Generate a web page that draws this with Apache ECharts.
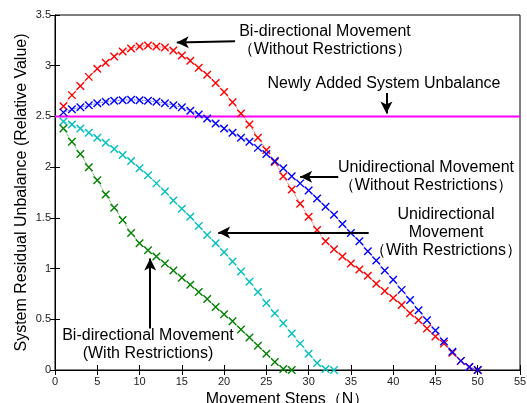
<!DOCTYPE html>
<html>
<head>
<meta charset="utf-8">
<script src="https://cdn.jsdelivr.net/npm/echarts@6/dist/echarts.min.js"></script>
<style>
  html, body { margin: 0; padding: 0; background: #fff; }
  #chart { width: 527px; height: 403px; }
</style>
</head>
<body>
<div id="chart"></div>
<script>
// steps start at 1, one value per step
var biNoRestrict = [2.60, 2.71, 2.80, 2.89, 2.97, 3.03, 3.09, 3.14, 3.17, 3.19,
    3.20, 3.19, 3.18, 3.15, 3.10, 3.05, 2.98, 2.91, 2.83, 2.74,
    2.64, 2.53, 2.42, 2.29, 2.17, 2.05, 1.91, 1.78, 1.64, 1.51,
    1.38, 1.27, 1.19, 1.12, 1.05, 0.99, 0.93, 0.85, 0.78, 0.71,
    0.64, 0.56, 0.49, 0.41, 0.33, 0.26, 0.17, 0.09, 0.03, 0.00];
var uniNoRestrict = [2.54, 2.57, 2.59, 2.61, 2.63, 2.645, 2.655, 2.66, 2.665, 2.66,
    2.655, 2.645, 2.63, 2.61, 2.59, 2.555, 2.52, 2.48, 2.43, 2.38,
    2.34, 2.29, 2.25, 2.19, 2.13, 2.06, 1.99, 1.91, 1.84, 1.77,
    1.69, 1.61, 1.53, 1.44, 1.35, 1.27, 1.17, 1.08, 0.98, 0.89,
    0.79, 0.69, 0.59, 0.49, 0.39, 0.28, 0.18, 0.09, 0.03, 0.00];
var uniRestrict = [2.45, 2.42, 2.38, 2.34, 2.29, 2.24, 2.18, 2.12, 2.06, 1.99,
    1.92, 1.84, 1.76, 1.67, 1.59, 1.51, 1.42, 1.33, 1.25, 1.16,
    1.07, 0.97, 0.87, 0.77, 0.66, 0.56, 0.46, 0.36, 0.26, 0.16,
    0.07, 0.01, 0.00];
var biRestrict = [2.38, 2.25, 2.13, 2.00, 1.87, 1.73, 1.60, 1.48, 1.35, 1.25,
    1.18, 1.12, 1.05, 0.98, 0.91, 0.84, 0.77, 0.70, 0.62, 0.55,
    0.48, 0.40, 0.32, 0.24, 0.16, 0.08, 0.01, 0.00];
var newUnbalance = 2.5;
var xTicks = [0, 55, 5];
var yTicks = [0, 3.5, 0.5];

function toPoints(vals) {
    return vals.map(function(v, i) { return [i + 1, v]; });
}

var cross = 'path://M0,0L10,10M10,0L0,10';
var font = 'Arial, "Liberation Sans", sans-serif';

function markSeries(name, vals, color) {
    return {
        name: name,
        type: 'line',
        data: toPoints(vals),
        symbol: cross,
        symbolSize: 7.5,
        showSymbol: true,
        itemStyle: { color: color, borderColor: color, borderWidth: 1.4 },
        lineStyle: { color: color, width: 0.8, type: 'dotted' },
        z: 3
    };
}

// annotation arrows, [from, to] in data units
var arrows = [
    [[21.3, 3.24], [14.4, 3.23]],
    [[39.2, 2.73], [39.2, 2.53]],
    [[33.5, 1.905], [29.0, 1.905]],
    [[37.1, 1.355], [19.3, 1.355]],
    [[11.26, 0.41], [11.26, 1.10]]
];

var labelStyle = { fontFamily: font, fontSize: 16, fill: '#000', textAlign: 'center', textVerticalAlign: 'middle', lineHeight: 18 };
function note(x, y, text) {
    return { type: 'text', x: x, y: y, style: Object.assign({ text: text }, labelStyle), z: 10 };
}

var chart = echarts.init(document.getElementById('chart'));
var option = {
    animation: false,
    backgroundColor: '#fff',
    grid: { left: 55, top: 15, right: 7, bottom: 33, outerBoundsMode: 'none', containLabel: false,
        show: true, borderColor: '#000', borderWidth: 1 },
    xAxis: [{
        type: 'value', min: xTicks[0], max: xTicks[1], interval: xTicks[2],
        name: 'Movement Steps（N）', nameLocation: 'middle', nameGap: 22,
        nameTextStyle: { fontFamily: font, fontSize: 16, color: '#000' },
        axisLine: { lineStyle: { color: '#000', width: 1 } },
        axisTick: { inside: true, length: 5, lineStyle: { color: '#000' } },
        axisLabel: { fontFamily: font, fontSize: 11, color: '#222', margin: 6 },
        splitLine: { show: false }
    }, {
        type: 'value', position: 'top', min: xTicks[0], max: xTicks[1], interval: xTicks[2],
        axisLine: { show: true, lineStyle: { color: '#000', width: 1 } },
        axisTick: { show: true, inside: true, length: 5, lineStyle: { color: '#000' } },
        axisLabel: { show: false }, splitLine: { show: false }
    }],
    yAxis: [{
        type: 'value', min: yTicks[0], max: yTicks[1], interval: yTicks[2],
        name: 'System Residual Unbalance (Relative Value)', nameLocation: 'middle', nameGap: 25,
        nameMoveOverlap: false,
        nameTextStyle: { fontFamily: font, fontSize: 16, color: '#000' },
        axisLine: { show: true, lineStyle: { color: '#000', width: 1 } },
        axisTick: { show: true, inside: true, length: 5, lineStyle: { color: '#000' } },
        axisLabel: { fontFamily: font, fontSize: 11, color: '#222', margin: 4 },
        splitLine: { show: false }
    }, {
        type: 'value', position: 'right', min: yTicks[0], max: yTicks[1], interval: yTicks[2],
        axisLine: { show: true, lineStyle: { color: '#000', width: 1 } },
        axisTick: { show: true, inside: true, length: 5, lineStyle: { color: '#000' } },
        axisLabel: { show: false }, splitLine: { show: false }
    }],
    series: [
        {
            name: 'Newly Added System Unbalance',
            type: 'line',
            xAxisIndex: 1,
            yAxisIndex: 1,
            data: [[xTicks[0], newUnbalance], [xTicks[1], newUnbalance]],
            symbol: 'none',
            lineStyle: { color: '#ff00ff', width: 2 },
            z: 2,
            markLine: {
                silent: true,
                symbol: ['none', 'arrow'],
                symbolSize: [9, 12],
                label: { show: false },
                lineStyle: { color: '#000', width: 2, type: 'solid' },
                data: arrows.map(function(a) {
                    return [{ coord: a[0] }, { coord: a[1] }];
                })
            }
        },
        markSeries('Bi-directional (Without Restrictions)', biNoRestrict, '#ff0000'),
        markSeries('Unidirectional (Without Restrictions)', uniNoRestrict, '#0000ff'),
        markSeries('Unidirectional (With Restrictions)', uniRestrict, '#00bfbf'),
        markSeries('Bi-directional (With Restrictions)', biRestrict, '#008000')
    ],
    graphic: [
        note(325, 41, 'Bi-directional Movement\n（Without Restrictions）'),
        note(384, 84, 'Newly Added System Unbalance'),
        note(426, 177, 'Unidirectional Movement\n（Without Restrictions）'),
        note(446, 233, 'Unidirectional\nMovement\n（With Restrictions）'),
        note(148, 345, 'Bi-directional Movement\n(With Restrictions)')
    ]
};
chart.setOption(option);
</script>
</body>
</html>
